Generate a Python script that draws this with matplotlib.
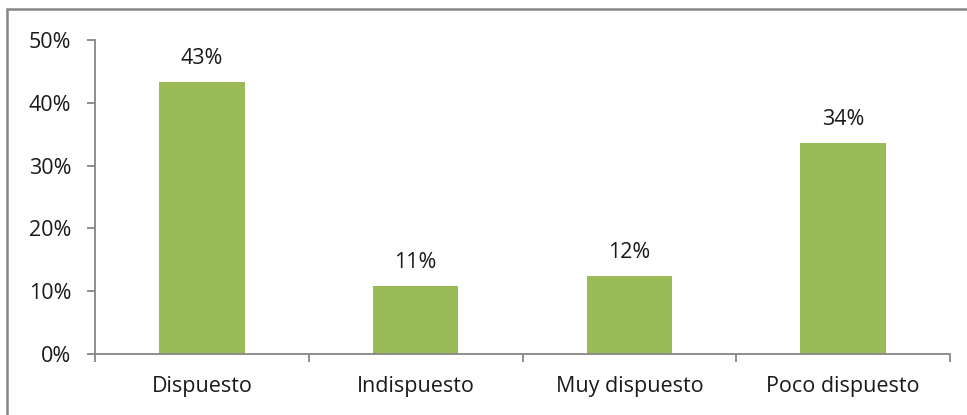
import matplotlib
matplotlib.use("Agg")
import matplotlib.pyplot as plt
from matplotlib.patches import Rectangle
from matplotlib.ticker import FuncFormatter, FixedLocator

categories = ["Dispuesto", "Indispuesto", "Muy dispuesto", "Poco dispuesto"]
values = [43.3, 10.8, 12.4, 33.6]
labels = ["43%", "11%", "12%", "34%"]
y_ticks = [0, 10, 20, 30, 40, 50]

BAR_COLOR = "#9BBB59"
AXIS_COLOR = "#868686"
TEXT_COLOR = "#1a1a1a"
W, H = 967, 415

plt.rcParams["font.family"] = ["Open Sans", "DejaVu Sans"]

fig = plt.figure(figsize=(W / 100, H / 100), dpi=100)
ax = fig.add_axes([95 / W, 1 - 354 / H, (950 - 95) / W, (354 - 40) / H])

x = list(range(len(categories)))
ax.bar(x, values, width=0.4, color=BAR_COLOR)
for xi, v, lab in zip(x, values, labels):
    ax.annotate(lab, (xi, v), xytext=(0, 17), textcoords="offset points",
                ha="center", va="center", fontsize=15.5, color=TEXT_COLOR)

ax.set_xlim(-0.5, len(categories) - 0.5)
ax.set_ylim(0, 50)
ax.set_yticks(y_ticks)
ax.yaxis.set_major_formatter(FuncFormatter(lambda v, p: f"{v:.0f}%"))
ax.set_xticks(x)
ax.set_xticklabels(categories)
ax.xaxis.set_minor_locator(FixedLocator([i - 0.5 for i in range(len(categories) + 1)]))

for s in ["top", "right"]:
    ax.spines[s].set_visible(False)
for s in ["left", "bottom"]:
    ax.spines[s].set_color(AXIS_COLOR)
    ax.spines[s].set_linewidth(1.3)

ax.tick_params(axis="y", length=6, width=1.3, color=AXIS_COLOR, labelsize=15.5,
               labelcolor=TEXT_COLOR, pad=11)
ax.tick_params(axis="x", which="major", length=0, labelsize=15.5,
               labelcolor=TEXT_COLOR, pad=16)
ax.tick_params(axis="x", which="minor", length=6, width=1.3, color=AXIS_COLOR)

# chart frame (only left and top edges fall inside the picture)
fig.patches.append(Rectangle((7 / W, -0.2), 1.2, 1.2 - 9 / H, transform=fig.transFigure,
                             fill=False, edgecolor=AXIS_COLOR, linewidth=1.8))

fig.savefig("out.png", dpi=100)
plt.close(fig)
